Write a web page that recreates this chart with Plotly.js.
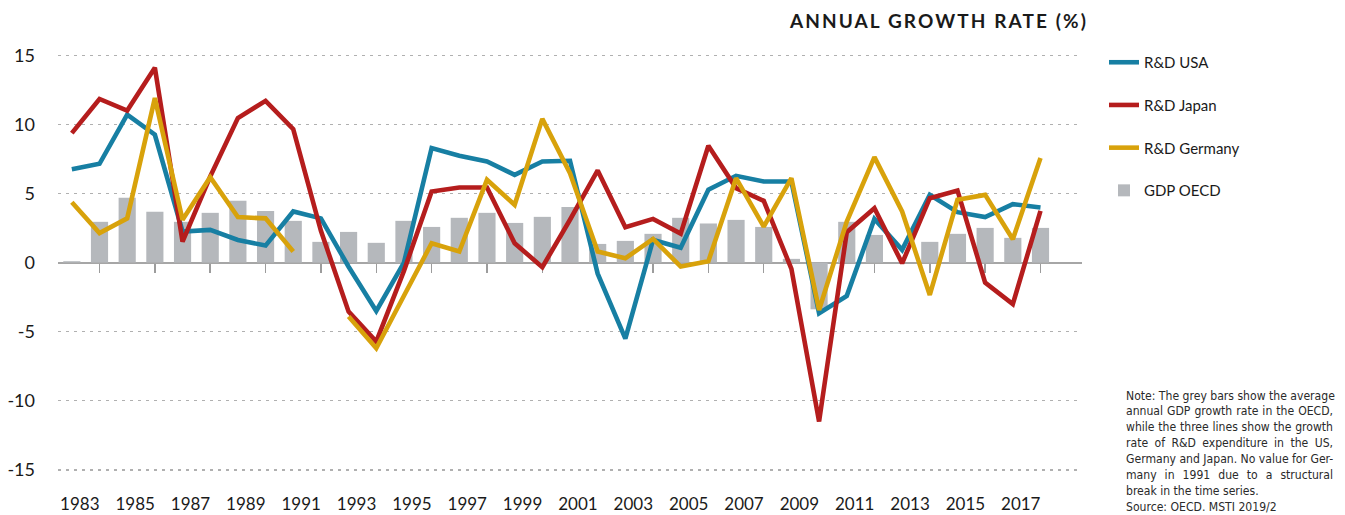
<!DOCTYPE html>
<html>
<head>
<meta charset="utf-8">
<script src="https://cdn.plot.ly/plotly-3.0.1.min.js"></script>
<style>
  html, body { margin: 0; padding: 0; background: #fff; }
  #chart { width: 1345px; height: 515px; }
  .annotation[data-index="0"] .annotation-text { letter-spacing: 2.1px; }
</style>
</head>
<body>
<div id="chart"></div>
<script>
// ---- data ----
const years = [1982,1983,1984,1985,1986,1987,1988,1989,1990,1991,1992,1993,1994,1995,1996,1997,1998,1999,
               2000,2001,2002,2003,2004,2005,2006,2007,2008,2009,2010,2011,2012,2013,2014,2015,2016,2017];
const rdUSA = [6.76,7.15,10.7,9.25,2.25,2.37,1.64,1.23,3.7,3.2,-0.3,-3.5,0.0,
               8.29,7.73,7.32,6.35,7.32,7.37,-0.8,-5.5,1.64,1.07,5.27,6.28,5.87,5.87,-3.67,-2.41,3.16,0.92,4.9,3.65,3.29,4.23,3.99];
const rdJapan = [9.37,11.84,11.0,14.1,1.52,6.23,10.46,11.7,9.66,2.3,-3.55,-5.72,-0.6,5.14,5.43,5.43,1.4,-0.33,3.1,6.67,
                 2.56,3.16,2.1,8.45,5.39,4.47,-0.45,-11.5,2.2,3.94,-0.05,4.66,5.22,-1.45,-3.0,3.74];
const rdGermany = [4.37,2.13,3.2,11.9,3.1,6.18,3.29,3.2,0.8,null,-3.9,-6.2,-2.4,1.4,0.8,5.99,4.18,10.4,6.47,0.8,
                   0.31,1.71,-0.29,0.1,6.11,2.6,6.11,-3.43,2.97,7.63,3.7,-2.34,4.54,4.9,1.69,7.56];
const gdpOECD = [0.1,2.95,4.69,3.67,2.95,3.6,4.47,3.74,3.02,1.5,2.22,1.43,3.02,2.58,3.24,3.6,2.87,3.31,4.03,1.35,
                 1.57,2.08,3.24,2.83,3.09,2.58,0.27,-3.38,2.95,2.0,null,1.5,2.08,2.51,1.79,2.51];
const seriesNames = ['R&D USA','R&D Japan','R&D Germany','GDP OECD'];
const xTickYears = [1983,1985,1987,1989,1991,1993,1995,1997,1999,2001,2003,2005,2007,2009,2011,2013,2015,2017];
const xTickLabels = xTickYears.map(String);
const yTickVals = [-15,-10,-5,0,5,10,15];
const yTickLabels = ['-15','-10','-5','0','5','10','15'];
const chartTitle = 'ANNUAL GROWTH RATE (%)';
const noteLines = [
  'Note: The grey bars show the average',
  'annual GDP growth rate in the OECD,',
  'while the three lines show the growth',
  'rate of R&D expenditure in the US,',
  'Germany and Japan. No value for Ger-',
  'many in 1991 due to a structural',
  'break in the time series.',
  'Source: OECD. MSTI 2019/2'
];
const justifiedLines = 6; // first six note lines are justified in the reference

// ---- styling / layout ----
const FONT = 'Lato, "Open Sans", sans-serif';
const NOTEFONT_NAME = 'DejaVu Sans Condensed';
const NOTEFONT = '"DejaVu Sans Condensed", "Liberation Sans", sans-serif';
const NOTESIZE = 12.1;
const NOTEWIDTH = 207;
const colors = ['#177fa3', '#b51d1d', '#d8a20b', '#b5b8bc'];
const xRange = [1981.5, 2018.5];
const yRange = [-16.6, 15.6];
const W = 1345, H = 515;
const M = {l: 58, r: 263, t: 47, b: 23};
const plotW = W - M.l - M.r, plotH = H - M.t - M.b;
const zeroPos = (0 - yRange[0]) / (yRange[1] - yRange[0]);
const px2x = p => (p - M.l) / plotW;
const py2y = p => (H - M.b - p) / plotH;

// justify note lines via word-spacing (measured before drawing)
(function () {
  const ctx = document.createElement('canvas').getContext('2d');
  ctx.font = NOTESIZE + 'px "' + NOTEFONT_NAME + '"';
  let css = '';
  noteLines.forEach((t, i) => {
    if (i >= justifiedLines) return;
    const w = ctx.measureText(t).width;
    const spaces = (t.match(/ /g) || []).length;
    if (!spaces) return;
    const extra = Math.max(0, (NOTEWIDTH - w) / spaces);
    css += '.annotation[data-index="' + (i + 1) + '"] .annotation-text { word-spacing: ' + extra.toFixed(2) + 'px; }\n';
  });
  const st = document.createElement('style');
  st.textContent = css;
  document.head.appendChild(st);
})();

const lineData = [rdUSA, rdJapan, rdGermany];
const traces = lineData.map((d, i) => ({
  type: 'scatter', mode: 'lines', x: years, y: d, name: seriesNames[i],
  xaxis: 'x2', yaxis: 'y', connectgaps: false,
  line: {color: colors[i], width: 4.6, shape: 'linear'},
  legendgroup: 'g' + i, hoverinfo: 'x+y+name'
}));
traces.push({
  type: 'bar', x: years, y: gdpOECD, name: seriesNames[3], xaxis: 'x', yaxis: 'y',
  width: 0.62, marker: {color: colors[3], line: {width: 0}}, legendgroup: 'g3'
});

const annotations = [{
  text: chartTitle, xref: 'paper', yref: 'paper', x: px2x(1067), y: py2y(21),
  xanchor: 'right', yanchor: 'middle', showarrow: false,
  font: {family: FONT, size: 19, color: '#1a1a1a', weight: 700}
}];
const noteTop = 395.5, noteStep = 15.9;
noteLines.forEach((t, i) => annotations.push({
  text: t, xref: 'paper', yref: 'paper', x: px2x(1124), y: py2y(noteTop + i * noteStep),
  xanchor: 'left', yanchor: 'middle', showarrow: false, align: 'left',
  font: {family: NOTEFONT, size: NOTESIZE, color: '#2a2a2a'}
}));

const layout = {
  width: W, height: H, margin: M, paper_bgcolor: '#fff', plot_bgcolor: '#fff',
  font: {family: FONT, color: '#1a1a1a'},
  showlegend: true, barmode: 'overlay',
  xaxis: {
    type: 'linear', range: xRange, anchor: 'free', position: zeroPos,
    tickmode: 'array', tickvals: xTickYears, showticklabels: false,
    ticks: 'outside', ticklen: 9, tickwidth: 1.5, tickcolor: '#9c9c9c',
    showgrid: false, zeroline: false, showline: false, layer: 'below traces', fixedrange: true
  },
  xaxis2: {
    type: 'linear', range: xRange, overlaying: 'x', anchor: 'y', side: 'bottom',
    tickmode: 'array', tickvals: xTickYears, ticktext: xTickLabels,
    ticklabelposition: 'outside left', ticks: '', showgrid: false, zeroline: false, showline: false,
    tickfont: {family: FONT, size: 17, color: '#1a1a1a'}, automargin: false, fixedrange: true
  },
  yaxis: {
    range: yRange, tickmode: 'array', tickvals: yTickVals, ticktext: yTickLabels,
    ticks: '', ticklabelstandoff: 22, tickfont: {family: FONT, size: 18, color: '#1a1a1a'},
    showgrid: true, gridcolor: '#b0b0b0', gridwidth: 1.4, griddash: '3px,5px',
    zeroline: true, zerolinecolor: '#a6a6a6', zerolinewidth: 2, showline: false,
    automargin: false, fixedrange: true
  },
  legend: {
    x: px2x(1104), xanchor: 'left', y: py2y(46), yanchor: 'top',
    font: {family: FONT, size: 15, color: '#1a1a1a'}, tracegroupgap: 20.2,
    bgcolor: 'rgba(0,0,0,0)', itemclick: false, itemdoubleclick: false
  },
  annotations: annotations
};

Plotly.newPlot('chart', traces, layout, {displayModeBar: false, staticPlot: true});
</script>
</body>
</html>
